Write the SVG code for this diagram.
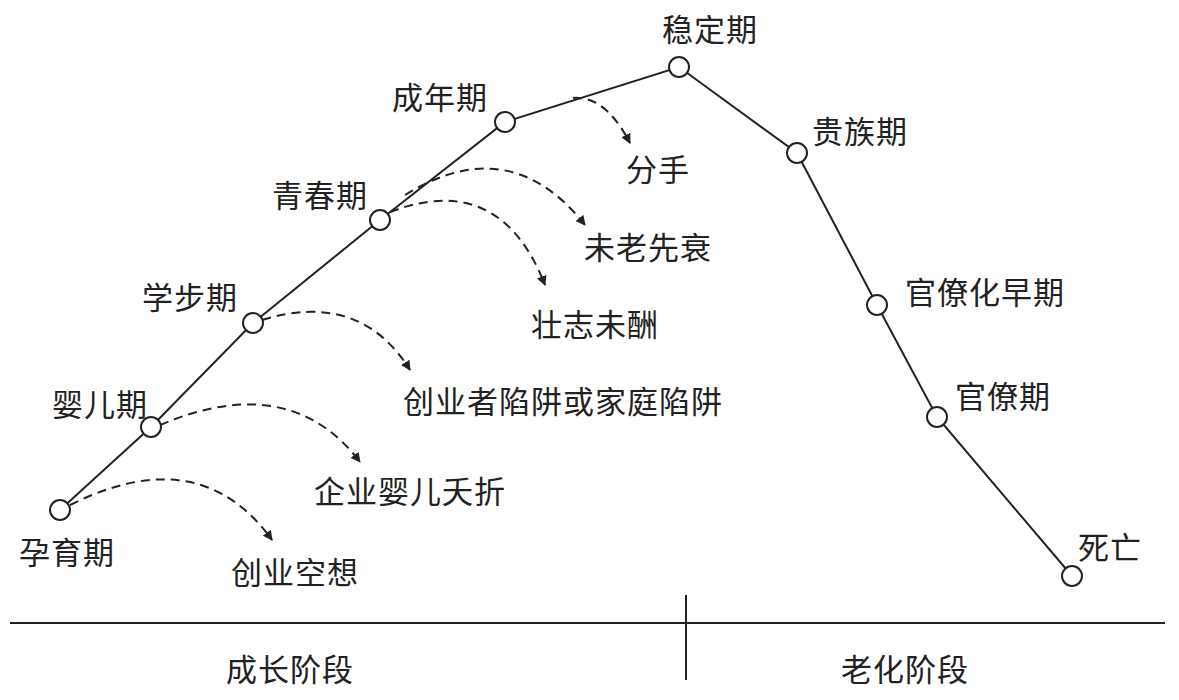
<svg xmlns="http://www.w3.org/2000/svg" width="1179" height="700" viewBox="0 0 1179 700">
<defs>
<marker id="ah" viewBox="0 0 10 10" refX="9" refY="5" markerWidth="10" markerHeight="10" orient="auto" markerUnits="userSpaceOnUse"><path d="M0,0 L10,5 L0,10 z" fill="#222"/></marker>
<style>
text{font-family:"Noto Sans CJK SC",sans-serif;font-size:31px;fill:#222;text-anchor:middle;letter-spacing:1px}
.n{fill:#fff;stroke:#222;stroke-width:2}
.l{fill:none;stroke:#222;stroke-width:2}
.d{fill:none;stroke:#222;stroke-width:2;stroke-dasharray:9 6;marker-end:url(#ah)}
</style>
</defs>
<rect width="1179" height="700" fill="#fff"/>
<g id="connectors">
<polyline class="l" points="60,510 151,427 253,323 380,220 505,122 679,67 797,153 877,305 937,417 1072,576"/>
<path class="d" d="M70,505 Q200,440 272,540"/>
<path class="d" d="M160,425 Q290,370 360,462"/>
<path class="d" d="M262,320 Q360,290 410,370"/>
<path class="d" d="M390,212 Q500,170 545,285"/>
<path class="d" d="M405,195 Q510,130 585,225"/>
<path class="d" d="M573,98 Q605,95 630,143"/>
<line class="l" x1="10" y1="623" x2="1165" y2="623"/>
<line class="l" x1="686" y1="595" x2="686" y2="680"/>
</g>
<g id="n1"><circle class="n" cx="60" cy="510" r="10"/><text x="67" y="564">孕育期</text></g>
<g id="n2"><circle class="n" cx="151" cy="427" r="10"/><text x="100" y="416">婴儿期</text></g>
<g id="n3"><circle class="n" cx="253" cy="323" r="10"/><text x="190" y="309">学步期</text></g>
<g id="n4"><circle class="n" cx="380" cy="220" r="10"/><text x="320" y="207">青春期</text></g>
<g id="n5"><circle class="n" cx="505" cy="122" r="10"/><text x="440" y="109">成年期</text></g>
<g id="n6"><circle class="n" cx="679" cy="67" r="10"/><text x="710" y="41">稳定期</text></g>
<g id="n7"><circle class="n" cx="797" cy="153" r="10"/><text x="860" y="143">贵族期</text></g>
<g id="n8"><circle class="n" cx="877" cy="305" r="10"/><text x="985" y="304">官僚化早期</text></g>
<g id="n9"><circle class="n" cx="937" cy="417" r="10"/><text x="1003" y="408">官僚期</text></g>
<g id="n10"><circle class="n" cx="1072" cy="576" r="10"/><text x="1110" y="559">死亡</text></g>
<g id="labels">
<text x="295" y="584">创业空想</text>
<text x="410" y="503">企业婴儿夭折</text>
<text x="563" y="413">创业者陷阱或家庭陷阱</text>
<text x="595" y="336">壮志未酬</text>
<text x="648" y="259">未老先衰</text>
<text x="658" y="181">分手</text>
<text x="290" y="681">成长阶段</text>
<text x="905" y="681">老化阶段</text>
</g>
</svg>
